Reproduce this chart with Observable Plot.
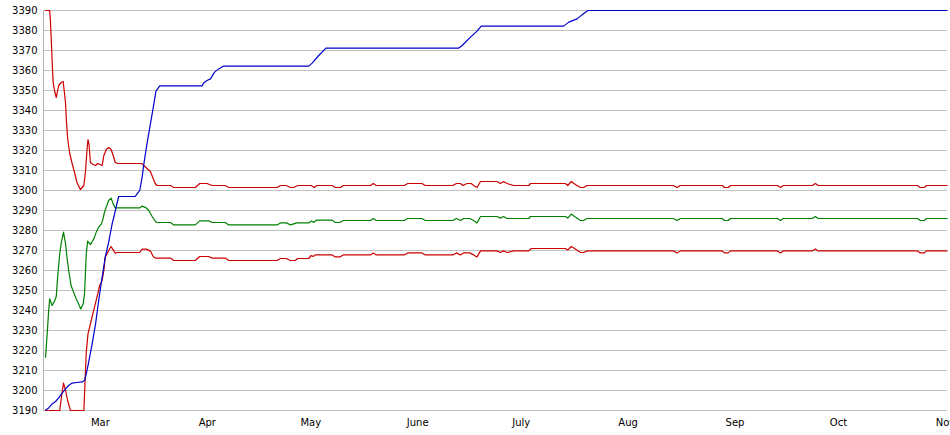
<!DOCTYPE html>
<html>
<head>
<meta charset="utf-8">
<script src="https://cdn.jsdelivr.net/npm/d3@7"></script>
<script src="https://cdn.jsdelivr.net/npm/@observablehq/plot@0.6"></script>
<style>
html, body { margin: 0; padding: 0; background: #fff; overflow: hidden; }
#chart svg { display: block; }
</style>
</head>
<body>
<div id="chart"></div>
<script>
const originYear = 2015, originMonth = 2, originDay = 1;
const xStartDay = -16.5;
const xEndDay = 245.6;
const monthLabels = ["Jan","Feb","Mar","Apr","May","June","July","Aug","Sep","Oct","Nov","Dec"];
const yTicks = [3190,3200,3210,3220,3230,3240,3250,3260,3270,3280,3290,3300,3310,3320,3330,3340,3350,3360,3370,3380,3390];

const blueSeries = [[-15.9,3190.3],[-15.0,3191.3],[-14.0,3193.3],[-13.0,3194.5],[-12.1,3196.3],[-11.1,3198.7],[-10.1,3200.8],[-9.2,3202.5],[-8.2,3203.7],[-6.8,3204],[-5.3,3204.3],[-4.6,3205],[-4.1,3208.3],[-3.4,3214.2],[-2.4,3223.3],[-1.4,3233.3],[-0.5,3245],[0.5,3256.7],[1.4,3266.7],[2.4,3274.2],[3.4,3283.3],[3.8,3286],[4.6,3292],[5.3,3297],[10.1,3297],[10.8,3298.7],[11.4,3300],[12.1,3306.7],[12.6,3313.3],[13.5,3323.3],[14.5,3333.3],[15.5,3343.3],[16.1,3349.7],[17.2,3352.3],[29.5,3352.3],[29.9,3353.8],[30.9,3355],[31.9,3355.8],[33.1,3359.2],[34.3,3360.8],[35.7,3362.2],[60.4,3362.2],[61.4,3363.7],[63.3,3367.5],[65.4,3371.2],[103.9,3371.2],[104.9,3372.5],[107.3,3376.7],[109.2,3379.7],[110.4,3382.2],[134.3,3382.2],[135.8,3384.2],[138.2,3385.8],[139.6,3387.8],[141.3,3390],[245.5,3390]];

const redUpperSeries = [[-15.9,3390],[-14.7,3390],[-14.5,3385],[-14.2,3373.5],[-13.9,3361],[-13.7,3354],[-13.3,3350],[-12.8,3346.5],[-12.1,3352.5],[-11.4,3354],[-10.8,3354.5],[-10.4,3348.5],[-10.1,3343.5],[-9.9,3336],[-9.5,3326],[-8.9,3318.5],[-8.2,3313.5],[-7.5,3309],[-6.8,3304],[-5.8,3300.5],[-4.8,3302.5],[-4.3,3310],[-3.9,3320],[-3.6,3325.5],[-3.3,3323],[-2.9,3314],[-2.1,3313],[-1.4,3312.5],[-0.8,3313.5],[0.5,3312.5],[1.0,3317.5],[1.7,3320.5],[2.4,3321.5],[3.1,3320.5],[3.7,3317.5],[4.3,3314],[5.0,3313.5],[11.9,3313.5],[12.6,3312.5],[13.5,3311],[14.5,3309.5],[15.3,3306],[15.9,3303.5],[16.4,3302.5],[20.3,3302.5],[21.3,3301.5],[27.5,3301.5],[28.8,3303.5],[30.9,3303.5],[32.4,3302.5],[36.2,3302.5],[37.2,3301.5],[51.2,3301.5],[52.2,3302.5],[53.9,3302.5],[55.1,3301.5],[56.0,3301.5],[57.2,3302.5],[61.1,3302.5],[62.0,3301.5],[62.8,3302.5],[67.2,3302.5],[68.1,3301.5],[69.6,3301.5],[70.4,3302.5],[78.3,3302.5],[79.1,3303.5],[80.0,3302.5],[88.1,3302.5],[89.1,3303.5],[93.2,3303.5],[94.2,3302.5],[102.2,3302.5],[103.2,3303.5],[104.4,3303.5],[105.1,3302.5],[106.3,3303.5],[107.5,3303.5],[108.2,3302.5],[109.2,3301.5],[110.2,3304.5],[115.0,3304.5],[116.0,3303.5],[116.9,3304.5],[117.9,3303.5],[119.8,3302.5],[124.2,3302.5],[124.7,3303.5],[134.8,3303.5],[135.5,3302.5],[136.5,3304.5],[137.7,3303],[139.2,3301.5],[140.1,3301.5],[141.1,3302.5],[166.1,3302.5],[167.2,3301.5],[168.1,3302.5],[180.3,3302.5],[180.9,3301.5],[182.0,3301.5],[182.7,3302.5],[196.3,3302.5],[197.2,3301.5],[198.0,3302.5],[206.4,3302.5],[207.3,3303.5],[208.1,3302.5],[236.9,3302.5],[237.7,3301.5],[238.9,3301.5],[239.5,3302.5],[245.5,3302.5]];

const greenSeries = [[-15.9,3216.7],[-15.7,3221.7],[-15.3,3231.7],[-15.0,3240],[-14.7,3245.8],[-14.0,3242.5],[-13.3,3244.7],[-12.8,3247],[-12.4,3256.7],[-11.8,3268.3],[-11.4,3273.3],[-10.7,3279.2],[-10.1,3273.3],[-9.7,3266.7],[-9.2,3260],[-8.5,3252.5],[-7.8,3249.2],[-7.0,3245.8],[-6.3,3243.3],[-5.7,3240.8],[-5.0,3243.3],[-4.6,3248.3],[-4.1,3268.3],[-3.7,3274.7],[-2.9,3273],[-1.9,3275.8],[-1.2,3279.2],[-0.5,3281.7],[0.3,3283.3],[0.7,3285.5],[1.1,3288.5],[1.6,3291.3],[2.4,3295],[3.1,3296.2],[3.7,3293.3],[4.3,3291.3],[11.4,3291.3],[12.1,3292.2],[13.3,3291.3],[14.0,3290],[15.0,3287],[15.9,3284.7],[16.4,3284],[20.3,3284],[21.3,3282.8],[27.5,3282.8],[28.8,3284.8],[31.4,3284.8],[32.4,3284],[36.2,3284],[37.2,3282.8],[51.2,3282.8],[52.2,3283.8],[53.9,3283.8],[55.1,3282.8],[57.0,3283.8],[60.4,3283.8],[61.2,3284.8],[61.8,3284],[62.3,3284.8],[62.8,3285.2],[67.2,3285.2],[68.1,3284],[69.4,3284],[70.4,3285],[78.3,3285],[79.1,3286],[80.0,3285],[88.1,3285],[89.1,3286],[93.2,3286],[94.2,3285],[102.2,3285],[103.2,3286],[104.4,3285],[105.3,3286],[107.1,3286],[108.2,3285],[109.2,3283.8],[110.2,3287],[115.0,3287],[116.0,3286.2],[116.9,3287],[117.9,3286],[124.2,3286],[124.7,3287],[134.8,3287],[135.5,3286.2],[136.5,3288.2],[137.7,3286.7],[139.2,3285],[140.1,3285],[141.1,3286],[166.1,3286],[167.2,3285],[168.1,3286],[180.3,3286],[180.9,3285],[182.0,3285],[182.7,3286],[196.3,3286],[197.2,3285],[198.0,3286],[206.4,3286],[207.3,3287],[208.1,3286],[236.9,3286],[237.7,3285],[238.9,3285],[239.5,3286],[245.5,3286]];

const redLowerSeries = [[-15.9,3190],[-11.8,3190],[-11.1,3199.2],[-10.7,3203.7],[-10.1,3200],[-9.5,3195],[-8.7,3190],[-4.8,3190],[-4.6,3198.3],[-4.1,3219.2],[-3.6,3228.3],[-2.9,3233.3],[-2.4,3237],[-1.7,3241.7],[-1.0,3246.7],[-0.2,3252.5],[0.5,3255],[1.0,3260],[1.4,3266.7],[1.9,3268.3],[2.4,3270],[3.1,3272],[3.7,3270.3],[4.3,3268.7],[5.0,3269],[11.4,3269],[12.1,3270.7],[13.3,3270.7],[14.5,3269.7],[15.3,3267],[15.9,3266.2],[20.3,3266.2],[21.3,3265],[27.5,3265],[28.8,3267],[31.4,3267],[32.4,3266.2],[36.2,3266.2],[37.2,3265],[51.2,3265],[52.2,3266],[53.9,3266],[55.1,3265],[56.5,3265],[57.2,3266],[60.4,3266],[61.1,3267.5],[61.7,3267],[62.3,3267.8],[67.2,3267.8],[68.1,3266.8],[69.4,3266.8],[70.4,3267.8],[78.3,3267.8],[79.1,3268.8],[80.0,3267.8],[88.1,3267.8],[89.1,3268.8],[93.2,3268.8],[94.2,3267.8],[102.2,3267.8],[103.2,3268.8],[104.4,3267.8],[105.3,3268.8],[107.1,3268.8],[108.2,3267.8],[109.2,3266.8],[110.2,3269.8],[115.0,3269.8],[116.0,3269],[116.9,3269.8],[117.9,3269],[119.8,3269.8],[124.2,3269.8],[124.9,3271],[134.8,3271],[135.5,3270.2],[136.5,3272],[137.7,3270.7],[139.2,3269],[140.1,3269],[141.1,3269.8],[166.1,3269.8],[167.2,3268.8],[168.1,3269.8],[180.3,3269.8],[180.9,3268.8],[182.0,3268.8],[182.7,3269.8],[196.3,3269.8],[197.2,3268.8],[198.0,3269.8],[206.4,3269.8],[207.3,3270.8],[208.1,3269.8],[236.9,3269.8],[237.7,3268.8],[238.9,3268.8],[239.5,3269.8],[245.5,3269.8]];

const seriesNames = ["upper", "mean", "lower", "total"];
const seriesColors = ["#cc0000", "#008000", "#cc0000", "#0000cc"];
const seriesPoints = [redUpperSeries, greenSeries, redLowerSeries, blueSeries];

const DAY = 864e5;
const base = Date.UTC(originYear, originMonth, originDay);
const toDate = d => new Date(base + d * DAY);
const xDomain = [toDate(xStartDay), toDate(xEndDay)];
const monthTicks = d3.utcMonths(xDomain[0], xDomain[1]);

const lineMarks = seriesPoints.map((pts, i) =>
  Plot.line(pts.map(([d, v]) => ({date: toDate(d), value: v, series: seriesNames[i]})), {
    x: "date", y: "value", stroke: seriesColors[i], strokeWidth: 1.2, curve: "linear"
  })
);

const chart = Plot.plot({
  width: 950,
  height: 435,
  marginLeft: 43,
  marginRight: 3,
  marginTop: 10,
  marginBottom: 25,
  style: {fontFamily: "'DejaVu Sans', sans-serif", fontSize: "10px", background: "#fff", color: "#000"},
  x: {type: "utc", domain: xDomain},
  y: {domain: [3190, 3390]},
  marks: [
    Plot.gridY(yTicks, {stroke: "#c0c0c0", strokeOpacity: 1}),
    Plot.ruleX([xDomain[0]], {stroke: "#b0b0b0"}),
    Plot.axisY(yTicks, {tickSize: 0, tickPadding: 6, label: null, tickFormat: d => String(d)}),
    Plot.axisX(monthTicks, {tickSize: 0, tickPadding: 8, label: null, tickFormat: d => monthLabels[d.getUTCMonth()]}),
    ...lineMarks
  ]
});
document.getElementById("chart").appendChild(chart);
</script>
</body>
</html>
